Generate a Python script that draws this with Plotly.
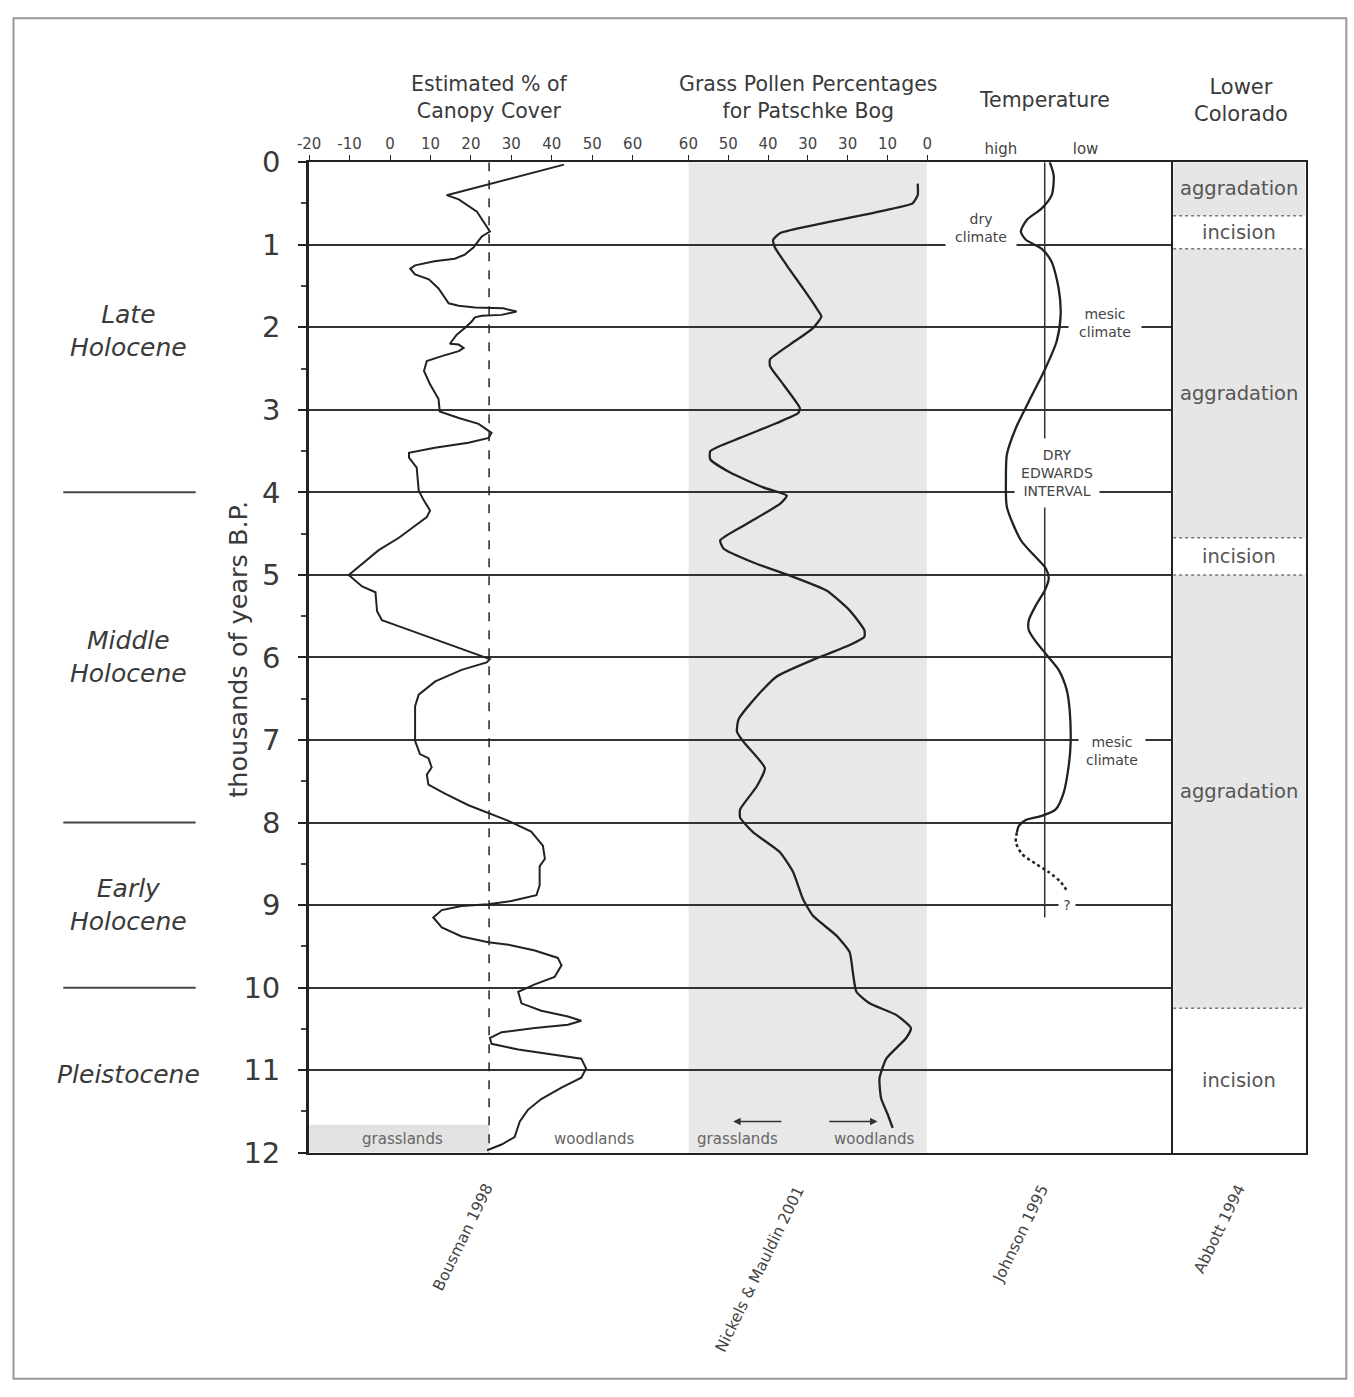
import plotly.graph_objects as go

W, H = 1354, 1397
# the captured page is slightly offset/scaled; map target picture pixels to figure fractions
SX, OX = 0.992, 8.5
SY, OY = 0.98, 14.2


def px(x):
    return min(max(((x - OX) / SX) / W, 0.001), 0.999)


def py(y):
    return min(max(1 - ((y - OY) / SY) / H, 0.001), 0.999)


# ---------------- data ----------------
year_ticks = list(range(0, 13))

canopy_ka = [0.03, 0.40, 0.45, 0.60, 0.84, 0.90, 1.03, 1.12, 1.17, 1.20, 1.25, 1.29, 1.36, 1.42,
             1.53, 1.71, 1.74, 1.76, 1.77, 1.81, 1.85, 1.86, 1.88, 1.93, 2.01, 2.09, 2.20, 2.21,
             2.25, 2.29, 2.35, 2.41, 2.53, 2.69, 2.87, 3.02, 3.10, 3.17, 3.28, 3.34, 3.40, 3.46,
             3.52, 3.58, 3.70, 3.98, 4.10, 4.22, 4.30, 4.43, 4.55, 4.70, 5.00, 5.14, 5.21, 5.44,
             5.55, 5.62, 5.78, 5.92, 6.02, 6.06, 6.15, 6.29, 6.45, 6.59, 7.01, 7.17, 7.22, 7.33,
             7.42, 7.54, 7.65, 7.79, 7.88, 7.98, 8.11, 8.28, 8.44, 8.53, 8.76, 8.88, 8.95, 8.99,
             9.01, 9.06, 9.15, 9.27, 9.38, 9.45, 9.48, 9.55, 9.64, 9.73, 9.87, 9.96, 10.05, 10.19,
             10.28, 10.35, 10.40, 10.45, 10.49, 10.54, 10.61, 10.68, 10.75, 10.81, 10.86, 10.98,
             11.09, 11.21, 11.35, 11.48, 11.62, 11.81, 11.90, 11.97]
canopy_pct = [43.0, 14.0, 17.0, 21.5, 24.7, 22.7, 20.7, 18.5, 16.0, 11.0, 6.2, 5.0, 6.2, 9.6,
              12.0, 14.5, 17.0, 21.0, 28.0, 31.3, 27.6, 22.7, 21.0, 20.2, 18.5, 16.5, 14.8, 17.0,
              18.2, 17.0, 12.8, 9.1, 8.4, 9.9, 12.0, 12.3, 17.0, 21.9, 25.1, 24.4, 19.4, 11.1,
              4.7, 4.7, 6.6, 7.1, 8.4, 9.9, 9.1, 5.4, 2.2, -2.8, -10.2, -6.9, -3.6, -3.2,
              -2.0, 2.1, 11.2, 19.4, 24.7, 23.9, 17.7, 11.2, 7.1, 6.2, 6.2, 7.4, 9.5, 10.3,
              9.1, 9.5, 13.6, 19.4, 24.3, 29.3, 34.9, 37.8, 38.3, 37.0, 37.0, 36.2, 30.0, 24.3,
              17.7, 12.8, 10.7, 12.8, 17.7, 24.3, 29.3, 35.8, 41.5, 42.4, 40.7, 35.8, 31.7, 32.5,
              37.4, 44.0, 47.3, 44.0, 35.8, 27.6, 24.7, 25.1, 31.7, 40.7, 47.3, 48.5,
              47.3, 42.4, 37.4, 34.1, 32.1, 30.8, 27.6, 24.0]
grass_wood_boundary = 24.5

pollen_ka = [0.26, 0.40, 0.50, 0.58, 0.68, 0.78, 0.86, 0.94, 1.03, 1.25, 1.53, 1.77, 1.87, 2.01,
             2.21, 2.39, 2.47, 2.69, 2.98, 3.04, 3.16, 3.34, 3.50, 3.60, 3.76, 3.94, 4.04, 4.14,
             4.38, 4.58, 4.68, 4.85, 5.01, 5.19, 5.43, 5.67, 5.75, 5.85, 5.93, 6.01, 6.23, 6.47,
             6.75, 6.90, 7.02, 7.34, 7.56, 7.84, 7.94, 8.12, 8.36, 8.60, 8.93, 9.13, 9.37, 9.57,
             9.81, 10.05, 10.19, 10.33, 10.49, 10.61, 10.86, 11.10, 11.34, 11.54, 11.70]
pollen_pct = [2.4, 2.4, 3.7, 10.3, 20.3, 30.3, 37.0, 38.7, 38.3, 35.3, 31.2, 27.8, 26.6, 28.7,
              34.5, 39.5, 39.5, 36.2, 32.0, 32.4, 37.8, 47.0, 54.5, 54.5, 49.5, 41.2, 35.3, 37.0,
              45.3, 52.0, 51.2, 43.7, 34.5, 25.3, 19.5, 15.8, 15.8, 19.5, 23.5, 27.8, 37.8, 42.8,
              47.4, 47.8, 46.2, 40.8, 42.8, 47.0, 47.0, 43.7, 37.0, 33.7, 31.2, 28.7, 22.8, 19.5,
              18.7, 17.8, 14.5, 7.8, 4.1, 5.3, 10.3, 12.0, 11.6, 9.9, 8.7]

temp_ka = [0.0, 0.16, 0.40, 0.56, 0.70, 0.84, 0.94, 1.05, 1.21, 1.53, 1.85, 2.17, 2.49, 2.90,
           3.22, 3.54, 3.86, 4.18, 4.58, 4.76, 4.92, 5.04, 5.19, 5.37, 5.55, 5.67, 5.79, 5.97,
           6.15, 6.39, 6.63, 7.04, 7.32, 7.64, 7.84, 7.92, 7.97, 8.04, 8.12]
temp_idx = [0.5, 0.9, 0.7, -0.3, -1.8, -2.4, -1.9, -0.3, 0.7, 1.4, 1.6, 1.2, 0.1, -1.6,
            -2.9, -3.8, -3.9, -3.8, -2.4, -1.1, 0.1, 0.4, 0.0, -0.9, -1.6, -1.6, -1.0, 0.2,
            1.4, 2.2, 2.5, 2.6, 2.4, 1.9, 1.1, -0.3, -1.9, -2.6, -2.8]
temp_uncertain_ka = [8.12, 8.24, 8.38, 8.50, 8.60, 8.72, 8.84]
temp_uncertain_idx = [-2.8, -2.9, -2.3, -0.9, 0.4, 1.6, 2.3]
temp_record_end = 9.15

colorado_bounds = [0, 0.65, 1.05, 4.55, 5.0, 10.25, 12]
colorado_units = ["aggradation", "incision", "aggradation", "incision", "aggradation", "incision"]
colorado_shaded = [True, False, True, False, True, False]

era_names = ["<i>Late<br>Holocene</i>", "<i>Middle<br>Holocene</i>", "<i>Early<br>Holocene</i>",
             "<i>Pleistocene</i>"]
era_label_ka = [2.05, 6.0, 9.0, 11.05]
era_bounds = [4, 8, 10]

canopy_tickvals = [-20, -10, 0, 10, 20, 30, 40, 50, 60]
canopy_ticktext = ["-20", "-10", "0", "10", "20", "30", "40", "50", "60"]
pollen_tickvals = [60, 50, 40, 30, 20, 10, 0]
pollen_ticktext = ["60", "50", "40", "30", "30", "10", "0"]
temp_tickvals = [-4.4, 4.1]
temp_ticktext = ["high", "low"]

citations = ["Bousman 1998", "Nickels &amp; Mauldin 2001", "Johnson 1995", "Abbott 1994"]
citation_px = [(462, 1240), (760, 1272), (1022, 1237), (1222, 1232)]

# ---------------- figure ----------------
LINE = "#222222"
TXT = "#3a3a3a"
FONT = "DejaVu Sans"

fig = go.Figure()

fig.add_trace(go.Scatter(x=canopy_pct, y=canopy_ka, xaxis="x", yaxis="y", mode="lines",
                         line=dict(color=LINE, width=2), hoverinfo="skip"))
fig.add_trace(go.Scatter(x=[grass_wood_boundary, grass_wood_boundary], y=[0, 12], xaxis="x", yaxis="y",
                         mode="lines", line=dict(color=LINE, width=1.5, dash="dash"), hoverinfo="skip"))

fig.add_trace(go.Scatter(x=pollen_pct, y=pollen_ka, xaxis="x2", yaxis="y", mode="lines",
                         line=dict(color=LINE, width=2.3, shape="spline", smoothing=0.5), hoverinfo="skip"))

fig.add_trace(go.Scatter(x=[0, 0], y=[0, temp_record_end], xaxis="x3", yaxis="y", mode="lines",
                         line=dict(color="#333", width=1.5), hoverinfo="skip"))
fig.add_trace(go.Scatter(x=temp_idx, y=temp_ka, xaxis="x3", yaxis="y", mode="lines",
                         line=dict(color=LINE, width=2.3, shape="spline", smoothing=0.7), hoverinfo="skip"))
fig.add_trace(go.Scatter(x=temp_uncertain_idx, y=temp_uncertain_ka, xaxis="x3", yaxis="y", mode="lines",
                         line=dict(color=LINE, width=2.5, dash="dot", shape="spline", smoothing=0.7),
                         hoverinfo="skip"))

fig.add_trace(go.Scatter(x=[0.5], y=[6], xaxis="x4", yaxis="y2", mode="markers",
                         marker=dict(opacity=0), hoverinfo="skip"))

shapes = []
annotations = []


def note(**kw):
    kw.setdefault("showarrow", False)
    kw.setdefault("xanchor", "center")
    kw.setdefault("yanchor", "middle")
    annotations.append(kw)


# outer frame
shapes.append(dict(type="rect", xref="paper", yref="paper", x0=px(10), x1=px(1349), y0=py(1394), y1=py(8),
                   line=dict(color="#999", width=2), fillcolor="rgba(0,0,0,0)", layer="below"))
# pollen shaded panel
shapes.append(dict(type="rect", xref="x2", yref="y", x0=60, x1=0, y0=0, y1=12,
                   fillcolor="#e8e8e8", line=dict(width=0), layer="below"))
# grasslands box in canopy panel
shapes.append(dict(type="rect", xref="x", yref="y", x0=-20, x1=grass_wood_boundary, y0=11.66, y1=12,
                   fillcolor="#e2e2e2", line=dict(width=0), layer="below"))

# Lower Colorado units
for i, name in enumerate(colorado_units):
    top, bot = colorado_bounds[i], colorado_bounds[i + 1]
    if colorado_shaded[i]:
        shapes.append(dict(type="rect", xref="x4", yref="y2", x0=0, x1=1, y0=top, y1=bot,
                           fillcolor="#e6e6e6", line=dict(width=0), layer="below"))
    note(x=0.5, y=(top + bot) / 2, xref="x4", yref="y2", text=name,
         font=dict(size=19.5, color="#555", family=FONT))
for b in colorado_bounds[1:-1]:
    shapes.append(dict(type="line", xref="x4", yref="y2", x0=0, x1=1, y0=b, y1=b,
                       line=dict(color="#777", width=1.5, dash="dot")))

# era boundaries and labels
for b in era_bounds:
    shapes.append(dict(type="line", xref="paper", yref="y", x0=px(60), x1=px(193), y0=b, y1=b,
                       line=dict(color="#444", width=2)))
for name, k in zip(era_names, era_label_ka):
    note(x=px(126), y=k, xref="paper", yref="y", text=name, font=dict(size=25, color=TXT, family=FONT))

# y axis title
note(x=px(236), y=5.9, xref="paper", yref="y", text="thousands of years B.P.", textangle=-90,
     font=dict(size=25.5, color=TXT, family=FONT))

# headers
headers = [("Estimated % of<br>Canopy Cover", 488, 95, 20.5),
           ("Grass Pollen Percentages<br>for Patschke Bog", 808, 95, 20.5),
           ("Temperature", 1046, 98, 20.5),
           ("Lower<br>Colorado", 1243, 98, 21)]
for t, x, y, s in headers:
    note(x=px(x), y=py(y), xref="paper", yref="paper", text=t, font=dict(size=s, color=TXT, family=FONT))

# temperature notes
temp_notes = [("dry<br>climate", -6.4, 0.80, 70, 42), ("mesic<br>climate", 6.1, 1.95, 72, 42),
              ("DRY<br>EDWARDS<br>INTERVAL", 1.2, 3.76, 84, 68), ("mesic<br>climate", 6.8, 7.13, 66, 42),
              ("?", 2.2, 9.0, 16, 16)]
for t, x, k, w, h in temp_notes:
    note(x=x, y=k, xref="x3", yref="y", text=t, bgcolor="white", width=w, height=h, borderpad=0,
         font=dict(size=14, color="#444", family=FONT))

# bottom vegetation labels
veg_labels = [("grasslands", "x", 3.0), ("woodlands", "x", 50.5), ("grasslands", "x2", 47.75),
              ("woodlands", "x2", 13.25)]
for t, xr, x in veg_labels:
    note(x=x, y=11.83, xref=xr, yref="y", text=t, font=dict(size=15, color="#666", family=FONT))
# arrows
for tip, tail in [(48.75, 36.25), (12.5, 25.0)]:
    annotations.append(dict(x=tip, y=11.62, xref="x2", yref="y", ax=tail, ay=11.62, axref="x2", ayref="y",
                            text="", showarrow=True, arrowhead=2, arrowsize=1, arrowwidth=1.5,
                            arrowcolor="#333"))

# citations
for t, (x, y) in zip(citations, citation_px):
    note(x=px(x), y=py(y), xref="paper", yref="paper", text=t, textangle=-64,
         font=dict(size=15.5, color="#444", family=FONT))

ydom = [py(1155), py(160)]
axis_common = dict(showgrid=False, zeroline=False, showline=True, linewidth=2, linecolor=LINE, mirror=True)

fig.update_layout(
    width=W, height=H, autosize=False, margin=dict(l=0, r=0, t=0, b=0),
    paper_bgcolor="white", plot_bgcolor="white", showlegend=False,
    font=dict(family=FONT, color=TXT),
    shapes=shapes, annotations=annotations,
    yaxis=dict(domain=ydom, range=[12, 0], anchor="x", tickvals=year_ticks, ticks="outside", ticklen=8,
               tickwidth=2, tickcolor=LINE, tickfont=dict(size=29, color=TXT), showline=True, linewidth=3,
               linecolor=LINE, showgrid=True, gridcolor="#333", gridwidth=1.5, zeroline=False,
               ticklabelstandoff=12,
               minor=dict(tick0=0, dtick=0.5, ticks="outside", ticklen=5, tickcolor="#444", showgrid=False)),
    yaxis2=dict(domain=ydom, range=[12, 0], anchor="x4", showticklabels=False, ticks="",
                **axis_common),
    xaxis=dict(domain=[px(307), px(688)], range=[-20, 73.78], anchor="y", side="top",
               tickvals=canopy_tickvals, ticktext=canopy_ticktext, ticks="outside", ticklen=5,
               tickcolor=LINE, tickfont=dict(size=15, color="#444"), **axis_common),
    xaxis2=dict(domain=[px(688), px(928)], range=[60, 0], anchor="y", side="top",
                tickvals=pollen_tickvals, ticktext=pollen_ticktext, ticks="outside", ticklen=5,
                tickcolor=LINE, tickfont=dict(size=15, color="#444"), **axis_common),
    xaxis3=dict(domain=[px(928), px(1175)], range=[-11.8, 12.9], anchor="y", side="top",
                tickvals=temp_tickvals, ticktext=temp_ticktext, ticks="",
                tickfont=dict(size=15, color="#444"), **axis_common),
    xaxis4=dict(domain=[px(1175), px(1308)], range=[0, 1], anchor="y2", showticklabels=False, ticks="",
                **axis_common),
)

fig.write_html("out.html")
